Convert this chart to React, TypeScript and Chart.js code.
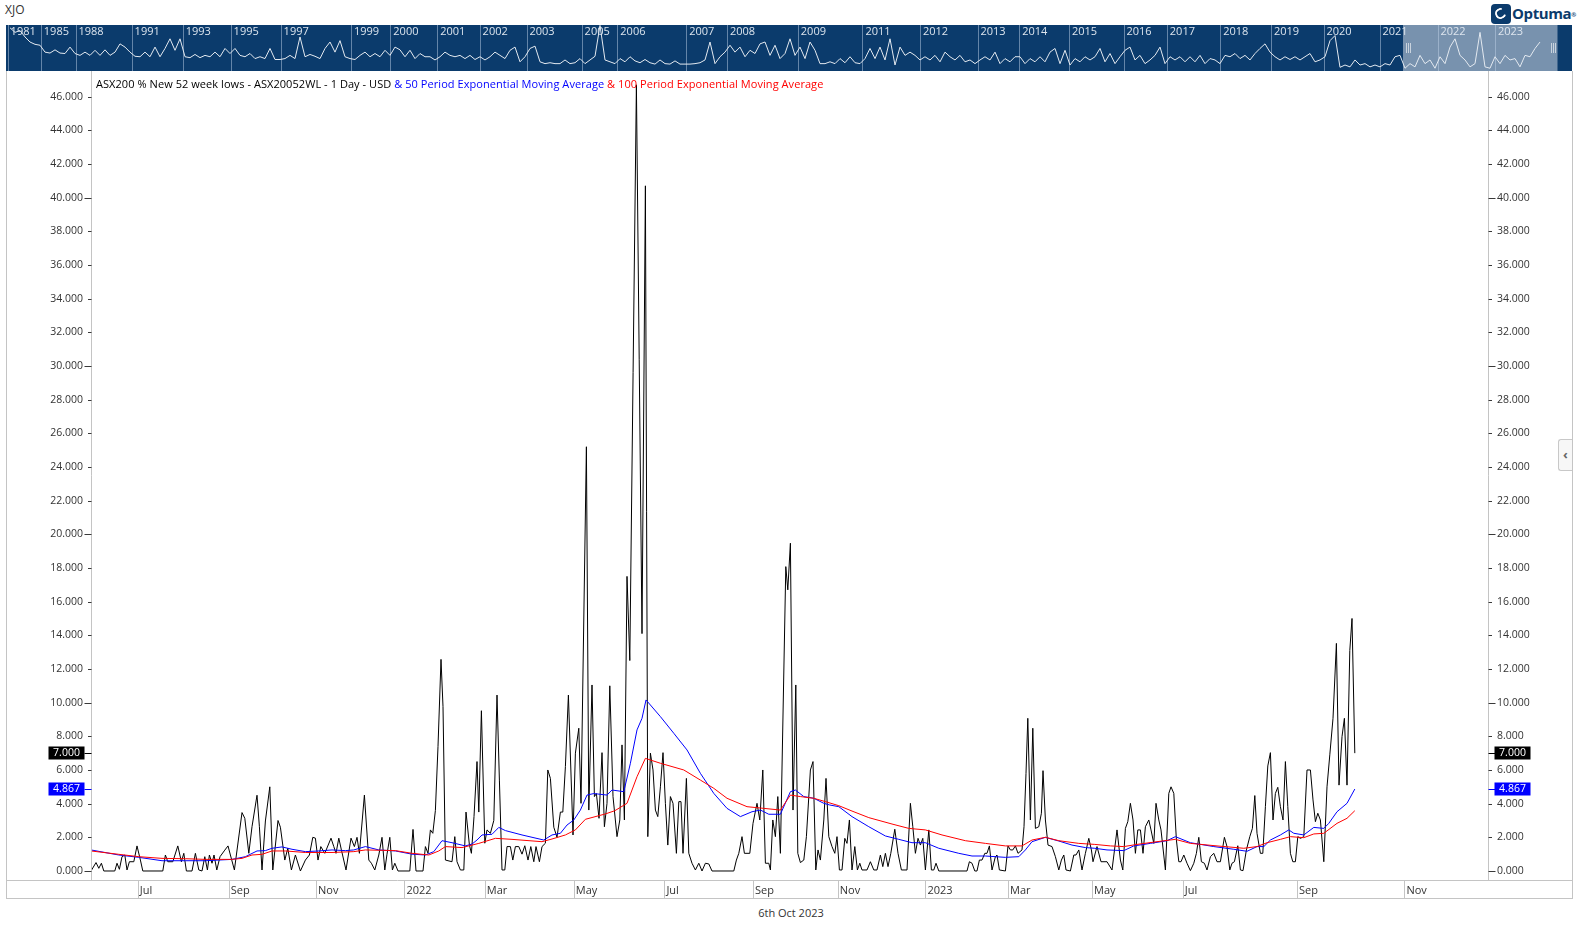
import React, { useEffect, useRef } from 'react';
import { Chart, registerables } from 'chart.js';
Chart.register(...registerables);

const FONT = '"Open Sans", "Noto Sans", sans-serif';

// ---- Main series: session index (trading days from left edge) and % new 52 week lows ----
const lowsDay = [
  0, 2.5, 3.9, 5.2, 6.4, 11.9, 13, 14.2, 15.5, 16.9, 18, 19.2, 21.4, 23, 24.7, 25.9, 35.9, 37.2, 38.4, 40.9, 43.4, 45.2, 46.4, 47.7, 50.5, 52.2, 53.9, 55.5, 56.9, 58.2, 59.2, 60.5, 61.5, 62.9, 64.5, 66.9, 68.5, 69.7, 71.7, 75.5, 76.9, 78.9, 80.5, 83, 84.2, 85.5, 87.2, 89.4, 90.9, 93.5, 94.7, 96.9, 98.4, 100.2, 102.2, 104.7, 107.2, 109.2, 110.9, 112.2, 113.5, 114.9, 116.9, 120, 121.4, 122.5, 123.9, 125.2, 127.5, 130,
  131.7, 133, 134.2, 136.7, 138.9, 140.2, 141.9, 143.9, 145.5, 146.9, 148, 149.4, 150.7, 151.9, 153.5, 159.4, 161, 162.5, 166, 167.2, 168.5, 169.7, 170.9, 172.2, 173.5, 175, 176, 177.2, 180.5, 181.9, 183, 184.7, 186.4, 187.5, 189.2, 190.2, 191.5, 193, 193.9, 195.2, 196.9, 198, 199.7, 201.4, 203, 204.2, 205.5, 206.9, 208, 209.7, 210.9, 212.2, 213.9, 215.5, 216.9, 218.5, 219.9, 221.4, 222.5, 224.2, 225.5, 227.2, 228.4, 229.7, 231.4, 233, 234.7, 235.9, 237.2, 238.7,
  241, 242.2, 243.9, 245, 247.7, 248.9, 250.5, 251.7, 252.7, 254, 255.5, 256.7, 258, 259.4, 261, 263, 264.4, 265.5, 266.7, 268, 269.4, 272.7, 275.5, 277.2, 278.4, 279.7, 281, 282.2, 283.4, 284.7, 286, 287.2, 288.4, 289.7, 291, 292.7, 293.9, 295, 296, 297.7, 298.9, 300.5, 302.2, 303.9, 305.5, 307.2, 308.9, 310.5, 321.4, 322.7, 323.9, 325.5, 326.7, 329.4, 331, 333, 334.4, 335.9, 337.2, 338.9, 339.7, 340.9, 342.2, 343.4, 344.7, 347.4, 348.4, 349.7, 351, 352.4, 353.4, 354.7, 356.4, 357.7, 359.7, 361, 362.4, 363.5, 364.7, 366.4, 367.5,
  368.9, 370.5, 371.9, 373, 374.2, 375.5, 376.9, 378, 379.2, 380.5, 381.9, 383.2, 384.4, 385.5, 388, 389.7, 391.4, 393, 394.7, 395.9, 397.2, 398.5, 399.9, 401.9, 403.5, 405.2, 408, 409.7, 410.9, 412.2, 413.5, 414.7, 415.9, 417.2, 418.9, 420.2, 421.4, 422.5, 423.9, 438, 439.2, 440.5, 441.9, 443, 444.2, 445.5, 446.9, 448, 449.2, 450.5, 452.2, 453, 454.2, 457.2, 458.5, 459.7, 460.9, 462.2, 463.5, 465.5, 466.5, 467.5, 468.4, 469.7, 470.9, 472.2, 473.9, 475.2, 476, 477.2, 478.5, 480.5, 482.2, 483.9, 485.2, 486.4, 487.5, 489.7, 491.4, 492.5, 493.9, 495.5, 497.2, 498.9, 500.2,
  501, 503, 505, 508, 510.5, 513, 514.7, 515.9, 517.2, 518.4, 519.7, 521, 522.2, 523.4, 524.7, 526, 527.2, 528.9, 530, 531.4, 532.5, 533.9, 535, 537.2, 538.9, 540, 541.4, 542.7, 543.9, 545, 546.4, 548, 549.7, 551.4, 552.7, 553.9, 555.2, 556.7, 558, 559.7, 561.4, 563, 564.7, 566.7, 568, 569.4, 570.5, 571.7, 573.4, 574.7, 576, 577.7, 579.4, 580.7, 581.9, 583, 584.7, 585.9, 587.2, 588.4, 589.7, 591, 592.2, 593.4, 594.7, 596, 597.2, 598.4, 599.7, 600.9, 602.2, 603.4, 604.7, 606.4, 608, 609.7, 611, 612.2, 613.4, 614.7, 616.4, 618, 619.4, 621, 622.7, 624, 625.5, 626.7, 628, 629.4, 630.5, 631.9,
];
const lowsPct = [
  0, 0.5, 0.16, 0.46, 0, 0, 0.46, 0.1, 0.85, 0.95, 0.06, 0.55, 0.55, 1.49, 0.65, 0, 0, 0.95, 0.55, 0.55, 1.49, 0.55, 1.05, 0, 0, 1.05, 0.06, 0, 0.85, 0.06, 0.95, 0.46, 0.95, 0.06, 0.85, 1.24, 1.49, 0.95, 0.06, 3.47, 3.13, 1.05, 2.63, 4.5, 2.63, 0.06, 2.97, 5.0, 0.06, 3.0, 2.6, 0.65, 1.35, 0.06, 0.95, 0, 0.65, 0.95, 2.0, 1.95, 0.65, 1.45, 1.05, 1.95, 1.45, 1.05, 1.95, 1.25, 0.06, 1.95,
  1.45, 2.0, 1.05, 4.51, 0.65, 0.46, 0.06, 0.95, 2.0, 0.06, 1.0, 2.0, 0.06, 0.46, 0, 0, 2.47, 0, 0, 1.45, 1.05, 2.44, 2.24, 3.6, 7.4, 12.57, 9.76, 0.65, 0.55, 2.04, 0.55, 0.06, 0.06, 3.5, 1.55, 1.05, 3.23, 6.5, 3.5, 9.52, 1.65, 2.44, 2.24, 3.0, 10.45, 5.4, 0.06, 0.06, 1.45, 1.45, 0.65, 1.45, 1.45, 1.0, 1.5, 0.65, 1.45, 0.55, 1.45, 0.55, 1.45, 1.65, 6.0, 5.5, 2.6, 2.0, 3.5, 3.5, 6.2, 10.45,
  2.14, 7.0, 8.48, 4.02, 25.2, 3.62, 11.05, 4.42, 4.6, 3.13, 7.03, 2.63, 4.02, 11.0, 4.42, 2.04, 3.03, 7.49, 3.03, 17.5, 12.5, 46.7, 14.1, 40.7, 2.04, 7.0, 6.0, 3.62, 3.23, 5.0, 7.03, 4.02, 1.54, 4.42, 4.02, 1.05, 4.12, 4.12, 1.05, 5.5, 1.05, 0.46, 0.06, 0.46, 0, 0.46, 0.42, 0, 0, 0.65, 1.05, 2.04, 1.05, 1.05, 2.83, 4.02, 3.03, 6.0, 0.46, 0.46, 0.06, 3.03, 2.04, 4.42, 1.05, 18.08, 16.7, 19.47, 3.62, 11.05, 1.05, 0.5, 0.65, 2.04, 6.0, 6.5, 0.06, 1.25, 0.65, 3.03, 5.5,
  2.04, 1.45, 1.05, 2.04, 0.06, 0.06, 1.94, 1.64, 3.03, 0.06, 1.45, 0.06, 0.46, 0.06, 0.06, 0.55, 0.06, 0.06, 0.95, 0.26, 1.05, 0.26, 1.05, 2.48, 1.05, 0.06, 0.06, 4.02, 2.63, 1.05, 1.94, 1.54, 1.94, 0.06, 2.44, 0.06, 0.06, 0.46, 0, 0, 0.55, 0.46, 0, 0, 0.65, 0.65, 1.05, 1.05, 1.49, 0.06, 0.85, 0.95, 0.06, 0, 1.49, 1.25, 1.25, 1.49, 1.05, 1.25, 2.63, 5.8, 9.07, 3.03, 8.48, 2.53, 2.63, 3.43, 5.96, 3.03, 1.54, 1.45, 0.85, 0.06, 0.65, 0.95, 0.06, 0, 0.95, 0.95, 1.25, 0.06, 1.05, 1.94, 1.25,
  0.55, 1.45, 0.55, 0.55, 0.06, 2.44, 0.65, 0.06, 2.53, 2.93, 4.02, 3.03, 1.05, 2.44, 2.44, 1.05, 2.63, 3.03, 2.44, 1.64, 4.02, 3.03, 2.44, 0.06, 4.61, 5.0, 4.61, 1.84, 0.55, 0.55, 0.95, 0.46, 0.02, 0.46, 1.05, 2.0, 0.55, 0.46, 0.06, 0.85, 1.05, 0.55, 0.55, 2.0, 1.45, 0.06, 0.46, 0.55, 1.5, 0.06, 0.02, 1.25, 2.04, 2.53, 4.48, 2.24, 1.05, 1.05, 3.82, 6.24, 7.03, 3.03, 4.61, 4.97, 3.82, 3.03, 6.5, 3.82, 1.05, 0.55, 0.55, 2.04, 1.94, 2.04, 6.0, 6.0, 4.22, 2.93, 3.43, 3.03, 0.55, 5.0, 6.9, 9.07, 13.52, 5.1, 7.98, 9.07, 5.1, 13.1, 15.0, 7.0,
];

// ---- 50 period EMA (blue) ----
const ema50Day = [0, 13.9, 23.9, 35.5, 47.2, 57.2, 70.5, 77.2, 83, 87.2, 90.5, 95.5, 100.5, 107.2, 113.9, 120.5, 127.2, 131.4, 137.2, 143.9, 152.2, 160.5, 167.2, 171.4, 175.5, 180.5, 187.2, 190.5, 193, 195.5, 200.5, 203.9, 207.2, 215.5, 226.4, 230.5, 234.7, 238, 241.4, 244.7, 248, 251.4, 258, 260.5, 266.4, 269.7, 273, 275.5, 277.5, 279.7, 284.7, 291.4, 298, 304.7, 311.4, 318, 324.7, 330.5, 334.7, 338.9, 344.7, 349.7, 352.2, 356.4, 361.4, 366.4, 369.4, 373.9, 380.5, 388.9, 397.2, 403.9, 410.5, 417.2, 423.9, 433.9, 440.5, 447.2, 457.2, 463.9, 467.2, 470.5, 477.2, 483.9, 490.5, 497.2, 501.9, 508, 516.4, 521.4, 529.7, 538, 542.2, 549.7, 561.4, 571.4, 578, 583, 586.4, 589.7, 594.7, 598.9, 601.4, 606.4, 611.4, 616.4, 618.9, 623, 628, 631.9];
const ema50 = [1.25, 0.95, 0.81, 0.61, 0.61, 0.61, 0.69, 0.85, 1.19, 1.21, 1.35, 1.43, 1.29, 1.15, 1.19, 1.25, 1.21, 1.25, 1.45, 1.25, 1.19, 1.0, 0.95, 1.15, 1.8, 1.68, 1.49, 1.6, 1.84, 2.14, 2.18, 2.59, 2.4, 2.14, 1.84, 2.14, 2.24, 2.73, 3.03, 3.62, 4.51, 4.6, 4.51, 4.81, 4.71, 6.4, 8.38, 9.07, 10.16, 9.86, 9.17, 8.18, 7.19, 5.8, 4.61, 3.72, 3.23, 3.52, 3.62, 3.37, 3.37, 4.71, 4.81, 4.42, 4.32, 4.02, 3.92, 3.82, 3.23, 2.63, 2.08, 1.88, 1.68, 1.68, 1.35, 1.05, 0.89, 0.89, 0.81, 0.85, 1.25, 1.74, 2.0, 1.78, 1.54, 1.39, 1.35, 1.25, 1.21, 1.49, 1.64, 1.8, 2.04, 1.68, 1.45, 1.29, 1.17, 1.45, 1.45, 1.84, 2.14, 2.44, 2.24, 2.14, 2.59, 2.53, 2.83, 3.52, 4.02, 4.867];

// ---- 100 period EMA (red) ----
const ema100Day = [0, 13.9, 23.9, 35.5, 47.2, 57.2, 70.5, 75.5, 80.5, 85.5, 90.5, 97.2, 107.2, 120.5, 131.4, 137.2, 152.2, 160.5, 168.9, 173.9, 177.2, 185.5, 193.9, 202.2, 210.5, 225.5, 230.5, 237.2, 242.2, 247.2, 257.2, 261.9, 268, 273, 277.2, 284.7, 296.4, 304.7, 311.4, 318, 328, 336.4, 344.7, 349.7, 354.7, 361.4, 367.2, 373.9, 380.5, 388.9, 400.5, 408.9, 417.2, 425.5, 437.2, 447.2, 457.2, 465.5, 470.5, 477.2, 483.9, 493.9, 501.9, 509.7, 516.4, 523, 533, 542.2, 549.7, 563, 576.4, 583, 588, 594.7, 599.7, 606.4, 611.4, 616.4, 623, 628, 631.9];
const ema100 = [1.19, 0.99, 0.85, 0.75, 0.73, 0.69, 0.69, 0.75, 0.95, 0.99, 1.19, 1.19, 1.1, 1.1, 1.15, 1.25, 1.21, 1.05, 0.95, 1.19, 1.45, 1.39, 1.64, 1.94, 1.88, 1.74, 1.9, 2.14, 2.44, 3.07, 3.39, 3.58, 4.02, 5.6, 6.69, 6.4, 6.0, 5.4, 4.91, 4.32, 3.82, 3.72, 3.62, 4.51, 4.42, 4.32, 4.12, 3.88, 3.56, 3.17, 2.79, 2.53, 2.44, 2.14, 1.8, 1.64, 1.49, 1.49, 1.84, 2.0, 1.8, 1.64, 1.58, 1.49, 1.45, 1.58, 1.74, 1.88, 1.64, 1.49, 1.35, 1.45, 1.68, 1.88, 2.04, 1.98, 2.2, 2.24, 2.83, 3.13, 3.58];

const lastValue = 7.0;
const lastEma50 = 4.867;

// ---- Axes ----
const monthTickDay = [23.4, 68.9, 112.5, 156.7, 196.9, 241.4, 286.7, 331, 373.4, 417.2, 458.5, 500.5, 545.9, 603, 656.7];
const monthTickLabel = ['Jul', 'Sep', 'Nov', '2022', 'Mar', 'May', 'Jul', 'Sep', 'Nov', '2023', 'Mar', 'May', 'Jul', 'Sep', 'Nov'];
const yTicks = [0, 2, 4, 6, 8, 10, 12, 14, 16, 18, 20, 22, 24, 26, 28, 30, 32, 34, 36, 38, 40, 42, 44, 46];
const X_MIN = 0;
const X_MAX = 698.5;
const Y_MIN = -0.535;
const Y_MAX = 47.52;

// ---- Navigator (1981 - 2023 overview): relative height of the history line in the strip ----
const navValues = [
  94, 84, 88, 74, 63, 58, 56, 41, 39, 46, 39, 38, 52, 38, 34, 41, 34, 45, 34, 46,
  34, 41, 59, 52, 41, 32, 31, 41, 31, 52, 31, 49, 70, 45, 70, 31, 29, 36, 29, 34,
  31, 41, 31, 49, 38, 49, 34, 31, 38, 27, 31, 27, 49, 25, 25, 27, 34, 27, 74, 31,
  36, 32, 27, 49, 63, 41, 66, 31, 27, 25, 34, 41, 31, 38, 31, 45, 34, 52, 46, 31,
  45, 27, 38, 31, 31, 24, 31, 41, 34, 31, 34, 27, 34, 25, 31, 24, 31, 41, 34, 27,
  45, 52, 20, 31, 49, 54, 20, 16, 18, 16, 16, 24, 16, 18, 27, 16, 24, 32, 99, 24,
  20, 16, 27, 20, 31, 22, 18, 25, 18, 15, 24, 16, 15, 22, 15, 15, 15, 16, 18, 24,
  63, 16, 31, 41, 56, 41, 52, 31, 45, 38, 59, 63, 34, 56, 27, 38,
  70, 34, 52, 27, 63, 45, 16, 16, 20, 16, 27, 18, 31, 18, 16, 27, 49, 27, 52, 24,
  70, 13, 52, 34, 41, 34, 24, 31, 24, 34, 20, 41, 31, 24, 34, 20, 24, 16, 24, 31,
  24, 41, 16, 27, 20, 31, 31, 16, 27, 20, 31, 20, 41, 49, 16, 45, 13, 27, 20, 31,
  24, 31, 49, 20, 38, 16, 31, 45, 52, 24, 34, 16, 24, 34, 52, 16, 31, 24, 31, 20,
  31, 20, 34, 16, 27, 24, 16, 34, 31, 38, 27, 34, 24, 38, 49, 59, 41, 31, 24, 31,
  25, 31, 24, 31, 38, 20, 24, 31, 66, 77, 8, 13, 9, 24, 13, 16, 9, 13, 9, 16,
  13, 31, 34, 6, 16, 9, 34, 16, 24, 6, 31, 16, 52, 70, 34, 24, 9, 16, 84, 9,
  6, 31, 16, 34, 24, 27, 9, 34, 31, 49, 63,
];
const navYearIdx = [-0.48, 6.16, 13.1, 24.32, 34.54, 44.12, 54.12, 68.2, 76.06, 85.44, 93.92, 103.3, 114.32, 121.46, 135.24, 143.4, 157.56, 170.48, 182, 193.5, 201.84, 211.8, 222.7, 231.36, 242.04, 252.2, 262.7, 273.9, 285.5, 297];
const navYearLabel = ['1981', '1985', '1988', '1991', '1993', '1995', '1997', '1999', '2000', '2001', '2002', '2003', '2005', '2006', '2007', '2008', '2009', '2011', '2012', '2013', '2014', '2015', '2016', '2017', '2018', '2019', '2020', '2021', '2022', '2023'];
const navWindow = [278.6, 309.5];
const NAV_MIN = -0.8;
const NAV_MAX = 312.4;

const NAVY = '#0b3b6c';

const noPad = (s: any) => {
  s.paddingTop = 0;
  s.paddingBottom = 0;
  s.paddingLeft = 0;
  s.paddingRight = 0;
};

const mainPlugin = {
  id: 'optumaAxes',
  afterDraw(chart: any) {
    const { ctx, chartArea } = chart;
    const xs = chart.scales.x;
    const ys = chart.scales.y;
    const W = chart.width;
    const H = chart.height;
    const L = Math.round(chartArea.left) + 0.5;
    const R = Math.round(chartArea.right) + 0.5;
    const B = Math.round(chartArea.bottom) + 0.5;
    ctx.save();
    ctx.lineWidth = 1;
    ctx.strokeStyle = '#c4c4c4';
    ctx.beginPath();
    ctx.moveTo(0, B); ctx.lineTo(W, B);
    ctx.moveTo(L, 0); ctx.lineTo(L, B);
    ctx.moveTo(R, 0); ctx.lineTo(R, B);
    monthTickDay.forEach((d) => {
      const px = Math.round(xs.getPixelForValue(d)) + 0.5;
      ctx.moveTo(px, B); ctx.lineTo(px, H);
    });
    ctx.stroke();
    // y tick marks
    ctx.strokeStyle = '#3a3a3a';
    ctx.beginPath();
    yTicks.forEach((v) => {
      const py = Math.round(ys.getPixelForValue(v)) + 0.5;
      const len = v % 10 === 0 ? 7 : 3.5;
      ctx.moveTo(L - len, py); ctx.lineTo(L, py);
      ctx.moveTo(R, py); ctx.lineTo(R + len, py);
    });
    ctx.stroke();
    // value badges
    const badge = (v: number, bg: string) => {
      const py = Math.round(ys.getPixelForValue(v));
      const h = 13;
      ctx.fillStyle = bg;
      ctx.strokeStyle = bg;
      ctx.beginPath();
      ctx.moveTo(L - 7, py + 0.5); ctx.lineTo(L, py + 0.5);
      ctx.moveTo(R, py + 0.5); ctx.lineTo(R + 7, py + 0.5);
      ctx.stroke();
      ctx.fillRect(L - 43, py - h / 2, 36, h);
      ctx.fillRect(R + 6, py - h / 2, 36, h);
      ctx.fillStyle = '#ffffff';
      ctx.font = `10.5px ${FONT}`;
      ctx.textAlign = 'center';
      ctx.textBaseline = 'middle';
      ctx.fillText(v.toFixed(3), L - 25, py + 0.5);
      ctx.fillText(v.toFixed(3), R + 24, py + 0.5);
    };
    badge(lastValue, '#000000');
    badge(lastEma50, '#0000ff');
    ctx.restore();
  },
};

const navPlugin = {
  id: 'navStrip',
  beforeDatasetsDraw(chart: any) {
    const { ctx } = chart;
    const xs = chart.scales.x;
    const W = chart.width;
    const H = chart.height;
    ctx.save();
    ctx.fillStyle = NAVY;
    ctx.fillRect(0, 0, W, H);
    const wx0 = xs.getPixelForValue(navWindow[0]);
    const wx1 = xs.getPixelForValue(navWindow[1]);
    ctx.fillStyle = '#7892ae';
    ctx.fillRect(wx0, 0, wx1 - wx0, H);
    ctx.strokeStyle = 'rgba(190,208,230,0.5)';
    ctx.lineWidth = 1;
    ctx.beginPath();
    navYearIdx.forEach((i) => {
      const px = Math.round(xs.getPixelForValue(i)) + 0.5;
      ctx.moveTo(px, 0); ctx.lineTo(px, H);
    });
    ctx.stroke();
    ctx.fillStyle = '#dde5ee';
    ctx.font = `11px ${FONT}`;
    ctx.textAlign = 'left';
    ctx.textBaseline = 'middle';
    navYearIdx.forEach((i, k) => {
      const px = xs.getPixelForValue(i);
      ctx.fillText(navYearLabel[k], px + 3, 7);
    });
    ctx.restore();
  },
  afterDraw(chart: any) {
    const { ctx } = chart;
    const xs = chart.scales.x;
    const wx0 = xs.getPixelForValue(navWindow[0]);
    const wx1 = xs.getPixelForValue(navWindow[1]);
    ctx.save();
    ctx.strokeStyle = '#c9d3de';
    ctx.lineWidth = 1;
    ctx.beginPath();
    [wx0 + 3, wx1 - 7].forEach((gx) => {
      for (let k = 0; k < 3; k++) {
        const px = Math.round(gx + k * 2) + 0.5;
        ctx.moveTo(px, 18); ctx.lineTo(px, 28);
      }
    });
    ctx.stroke();
    ctx.restore();
  },
};

function Navigator() {
  const ref = useRef<HTMLCanvasElement>(null);
  useEffect(() => {
    const chart = new Chart(ref.current as HTMLCanvasElement, {
      type: 'line',
      data: {
        datasets: [
          {
            data: navValues.map((v, i) => ({ x: i, y: v })),
            borderColor: '#e3e9f0',
            borderWidth: 1,
            pointRadius: 0,
            tension: 0,
          },
        ],
      },
      options: {
        responsive: false,
        animation: false,
        devicePixelRatio: 1,
        events: [],
        layout: { padding: 0, autoPadding: false },
        plugins: { legend: { display: false }, tooltip: { enabled: false } },
        scales: {
          x: { type: 'linear', display: false, min: NAV_MIN, max: NAV_MAX },
          y: { type: 'linear', display: false, min: 0, max: 100 },
        },
      } as any,
      plugins: [navPlugin],
    });
    return () => chart.destroy();
  }, []);
  return <canvas ref={ref} width={1566} height={46} style={{ position: 'absolute', left: 6, top: 25 }} />;
}

function MainChart() {
  const ref = useRef<HTMLCanvasElement>(null);
  useEffect(() => {
    const tickFont = { family: FONT, size: 10.5 };
    const chart = new Chart(ref.current as HTMLCanvasElement, {
      type: 'line',
      data: {
        datasets: [
          {
            label: 'ASX200 % New 52 week lows',
            data: lowsDay.map((d, i) => ({ x: d, y: lowsPct[i] })),
            borderColor: '#000000',
            borderWidth: 1,
            pointRadius: 0,
            tension: 0,
            order: 3,
          },
          {
            label: '50 Period EMA',
            data: ema50Day.map((d, i) => ({ x: d, y: ema50[i] })),
            borderColor: '#0000ff',
            borderWidth: 1,
            pointRadius: 0,
            tension: 0,
            order: 2,
          },
          {
            label: '100 Period EMA',
            data: ema100Day.map((d, i) => ({ x: d, y: ema100[i] })),
            borderColor: '#ff0000',
            borderWidth: 1,
            pointRadius: 0,
            tension: 0,
            order: 1,
          },
        ],
      },
      options: {
        responsive: false,
        animation: false,
        devicePixelRatio: 1,
        events: [],
        layout: { padding: 0, autoPadding: false },
        plugins: { legend: { display: false }, tooltip: { enabled: false }, title: { display: false } },
        scales: {
          x: {
            type: 'linear',
            position: 'bottom',
            min: X_MIN,
            max: X_MAX,
            grid: { display: false, drawTicks: false },
            border: { display: false },
            afterFit: (s: any) => { s.height = 19; noPad(s); },
            afterBuildTicks: (s: any) => { s.ticks = monthTickDay.map((v) => ({ value: v })); },
            ticks: {
              callback: (_v: any, i: number) => monthTickLabel[i],
              align: 'start',
              labelOffset: 2,
              padding: 4,
              autoSkip: false,
              maxRotation: 0,
              font: { family: FONT, size: 11 },
              color: '#333333',
            },
          },
          y: {
            type: 'linear',
            position: 'left',
            min: Y_MIN,
            max: Y_MAX,
            grid: { display: false, drawTicks: false },
            border: { display: false },
            afterFit: (s: any) => { s.width = 85; noPad(s); },
            afterBuildTicks: (s: any) => { s.ticks = yTicks.map((v) => ({ value: v })); },
            ticks: { callback: (v: any) => Number(v).toFixed(3), padding: 8, font: tickFont, color: '#333333' },
          },
          y2: {
            type: 'linear',
            position: 'right',
            min: Y_MIN,
            max: Y_MAX,
            grid: { display: false, drawTicks: false },
            border: { display: false },
            afterFit: (s: any) => { s.width = 84; noPad(s); },
            afterBuildTicks: (s: any) => { s.ticks = yTicks.map((v) => ({ value: v })); },
            ticks: { callback: (v: any) => Number(v).toFixed(3), padding: 9, font: tickFont, color: '#333333' },
          },
        },
      } as any,
      plugins: [mainPlugin],
    });
    return () => chart.destroy();
  }, []);
  return <canvas ref={ref} width={1566} height={828} style={{ position: 'absolute', left: 6, top: 71 }} />;
}

export default function App() {
  return (
    <div style={{ position: 'absolute', left: 0, top: 0, width: 1578, height: 932, background: '#ffffff', overflow: 'hidden', fontFamily: FONT }}>
      <div style={{ position: 'absolute', left: 5, top: 2, fontSize: 12, color: '#333', lineHeight: '16px' }}>XJO</div>
      {/* Optuma logo */}
      <div style={{ position: 'absolute', left: 1491, top: 4, width: 20, height: 20, borderRadius: 4, background: NAVY }}>
        <div style={{ position: 'absolute', left: 4, top: 4, width: 7, height: 7, borderRadius: '50%', border: '2.5px solid #fff', borderRightColor: 'transparent', transform: 'rotate(-30deg)' }} />
      </div>
      <div style={{ position: 'absolute', left: 1512, top: 2, fontSize: 15, fontWeight: 700, color: NAVY, letterSpacing: -0.4, lineHeight: '22px', whiteSpace: 'nowrap' }}>
        Optuma<span style={{ fontSize: 6, verticalAlign: 'top', position: 'relative', top: 2 }}>®</span>
      </div>
      <Navigator />
      {/* chart frame */}
      <div style={{ position: 'absolute', left: 6, top: 71, width: 1565, height: 827, borderLeft: '1px solid #c4c4c4', borderRight: '1px solid #c4c4c4', borderBottom: '1px solid #c4c4c4', pointerEvents: 'none' }} />
      <MainChart />
      <div style={{ position: 'absolute', left: 96, top: 76, fontSize: 11, letterSpacing: 0.06, lineHeight: '15px', whiteSpace: 'nowrap', color: '#000' }}>
        ASX200 % New 52 week lows - ASX20052WL - 1 Day - USD
        <span style={{ color: '#0000ff' }}> &amp; 50 Period Exponential Moving Average</span>
        <span style={{ color: '#ff0000' }}> &amp; 100 Period Exponential Moving Average</span>
      </div>
      {/* collapse tab */}
      <div style={{ position: 'absolute', left: 1558, top: 439, width: 13, height: 30, border: '1px solid #c8c8c8', borderRight: 'none', borderRadius: '3px 0 0 3px', background: '#f7f7f7', color: '#666', fontSize: 13, fontWeight: 700, lineHeight: '28px', textAlign: 'center' }}>‹</div>
      <div style={{ position: 'absolute', left: 0, width: 1578, top: 905, textAlign: 'center', fontSize: 11, color: '#333', lineHeight: '16px', paddingLeft: 2 }}>6th Oct 2023</div>
    </div>
  );
}
